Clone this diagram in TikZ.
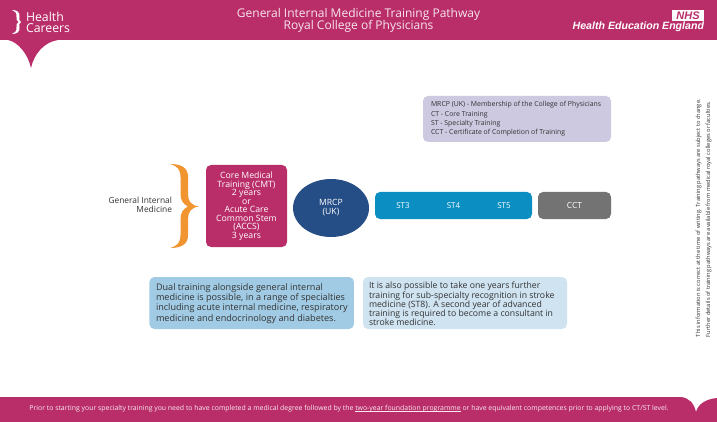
\documentclass[tikz,border=0pt]{standalone}
\usepackage{fontspec}
\usetikzlibrary{shapes.geometric}
\setmainfont{Open Sans}
\newfontfamily\headfont{Liberation Sans}
\definecolor{brand}{HTML}{B92D69}
\definecolor{bracec}{HTML}{F0952F}
\definecolor{navyc}{HTML}{264E86}
\definecolor{tealc}{HTML}{0B8FC2}
\definecolor{greyc}{HTML}{737373}
\definecolor{lavc}{HTML}{CCC9E1}
\definecolor{blueA}{HTML}{A1CBE4}
\definecolor{blueB}{HTML}{CFE3F1}
\definecolor{inkc}{HTML}{333333}
\newcommand{\fs}[2]{\fontsize{#1}{#2}\selectfont}
\newsavebox{\ulbox}
\newcommand{\ulink}[1]{\sbox{\ulbox}{#1}\rlap{\rule[-0.9pt]{\wd\ulbox}{0.35pt}}\usebox{\ulbox}}
\tikzset{
  x=1pt,y=-1pt,
  lab/.style={inner sep=0pt,outer sep=0pt,align=center},
  card/.style={rounded corners=5pt,inner sep=0pt,outer sep=0pt,align=center},
  darkcard/.style={card,text=white,font=\fs{8.7}{8.5}},
  sttext/.style={lab,text=white,font=\fs{8}{8}},
  legtext/.style={lab,anchor=west,text=inkc,font=\fs{6.9}{7}},
  notetext/.style={lab,anchor=west,text=inkc,align=left,font=\fs{#1}{8.7}},
  sidetext/.style={lab,rotate=90,anchor=west,text=inkc,font=\fs{5.7}{5.7}},
}
\begin{document}
\begin{tikzpicture}
\useasboundingbox (0,0) rectangle (717,422);
\fill[white] (0,0) rectangle (717,422);
% top band with pointed tab
\fill[brand] (0,0) -- (717,0) -- (717,40) -- (58,40)
  .. controls (44,42) and (34,54) .. (31,68)
  .. controls (28,54) and (18,42) .. (8,40) -- (0,40) -- cycle;
% bottom band with notch
\fill[brand] (0,397) -- (681,397)
  .. controls (689,398) and (694,403) .. (696,412)
  .. controls (698,404) and (706,399) .. (717,398)
  -- (717,422) -- (0,422) -- cycle;
% logo
\fill[white] (12,10) .. controls (17,10) and (20,12) .. (19.5,17)
  .. controls (19,19) and (19,21) .. (21,22)
  .. controls (19,23) and (19,25) .. (19.5,27)
  .. controls (20,32) and (17,34) .. (12,34)
  .. controls (15,33) and (17,31) .. (16.5,27)
  .. controls (16,25) and (17,23) .. (18.5,22)
  .. controls (17,21) and (16,19) .. (16.5,17)
  .. controls (17,13) and (15,11) .. (12,10) -- cycle;
\node[lab,anchor=west,text=white,font=\fs{12.3}{12}] (logoa) at (26,16.5) {Health};
\node[lab,anchor=west,text=white,font=\fs{12.3}{12}] (logob) at (26,28.5) {Careers};
% headings
\node[lab,text=white!88!brand,font=\fs{12}{12}] (heada) at (358.5,14.5) {General Internal Medicine Training Pathway};
\node[lab,text=white!88!brand,font=\fs{12}{12}] (headb) at (358.5,26) {Royal College of Physicians};
\node[lab,fill=white,text=brand,font=\headfont\bfseries\itshape\fs{11}{11},minimum width=32pt,minimum height=11pt,anchor=north east] (nhs) at (704,10) {NHS};
\node[lab,anchor=east,text=white,font=\headfont\bfseries\itshape\fs{10.6}{11}] (hee) at (704,26.5) {Health Education England};
% brace (tapered)
\fill[bracec] (170,164) .. controls (182,164) and (188,168) .. (188,177)
  -- (188,194) .. controls (188,201) and (191,205.5) .. (199,206.5)
  .. controls (191,207.5) and (188,212) .. (188,219)
  -- (188,235) .. controls (188,244) and (182,248) .. (170,248)
  .. controls (177,246) and (180.5,243) .. (180.5,235)
  -- (180.5,219) .. controls (180.5,213) and (183,209) .. (188,206.5)
  .. controls (183,204) and (180.5,200) .. (180.5,194)
  -- (180.5,177) .. controls (180.5,169) and (177,166) .. (170,164) -- cycle;
\node[lab,align=right,anchor=east,text=inkc,font=\fs{8.4}{9}] (gim) at (172,205) {General Internal\\Medicine};
% pathway
\node[darkcard,fill=brand,minimum width=81pt,minimum height=82pt] (core) at (246.5,206)
  {Core Medical\\Training (CMT)\\2 years\\or\\Acute Care\\Common Stem\\(ACCS)\\3 years};
\node[lab,shape=ellipse,fill=navyc,text=white,font=\fs{8.6}{9},minimum width=76pt,minimum height=58pt] (mrcp) at (331,208) {MRCP\\(UK)};
\node[card,fill=tealc,minimum width=157pt,minimum height=27pt] (st) at (453.5,205.5) {};
\node[sttext] (st3) at (403,206) {ST3};
\node[sttext] (st4) at (453.5,206) {ST4};
\node[sttext] (st5) at (504,206) {ST5};
\node[card,fill=greyc,text=white,font=\fs{8.4}{8.4},minimum width=73pt,minimum height=27pt] (cct) at (574.5,205.5) {CCT};
% legend
\node[card,fill=lavc,minimum width=188pt,minimum height=46pt] (legend) at (517,119) {};
\node[legtext] (lega) at (431,105) {MRCP (UK) - Membership of the College of Physicians};
\node[legtext] (legb) at (431,114.3) {CT - Core Training};
\node[legtext] (legc) at (431,123.5) {ST - Specialty Training};
\node[legtext] (legd) at (431,132.7) {CCT - Certificate of Completion of Training};
% notes
\node[card,fill=blueA,minimum width=204.5pt,minimum height=52pt] (notea) at (251.7,303) {};
\node[notetext=9.1] (noteatext) at (156,303.5)
  {Dual training alongside general internal\\medicine is possible, in a range of specialties\\including acute internal medicine, respiratory\\medicine and endocrinology and diabetes.};
\node[card,fill=blueB,minimum width=204pt,minimum height=52pt] (noteb) at (465,303) {};
\node[notetext=8.7] (notebtext) at (369,303.5)
  {It is also possible to take one years further\\training for sub-specialty recognition in stroke\\medicine (ST8). A second year of advanced\\training is required to become a consultant in\\stroke medicine.};
% footer
\node[lab,text=white!90!brand,font=\fs{6.9}{7}] (foot) at (349,409)
  {Prior to starting your specialty training you need to have completed a medical degree followed by the \ulink{two-year foundation programme} or have equivalent competences prior to applying to CT/ST level.};
% side note
\node[sidetext] (sidea) at (698.5,337) {This information is correct at the time of writing. Training pathways are subject to change.};
\node[sidetext] (sideb) at (708.5,337) {Further details of training pathways are available from medical royal colleges or faculties.};
\end{tikzpicture}
\end{document}
